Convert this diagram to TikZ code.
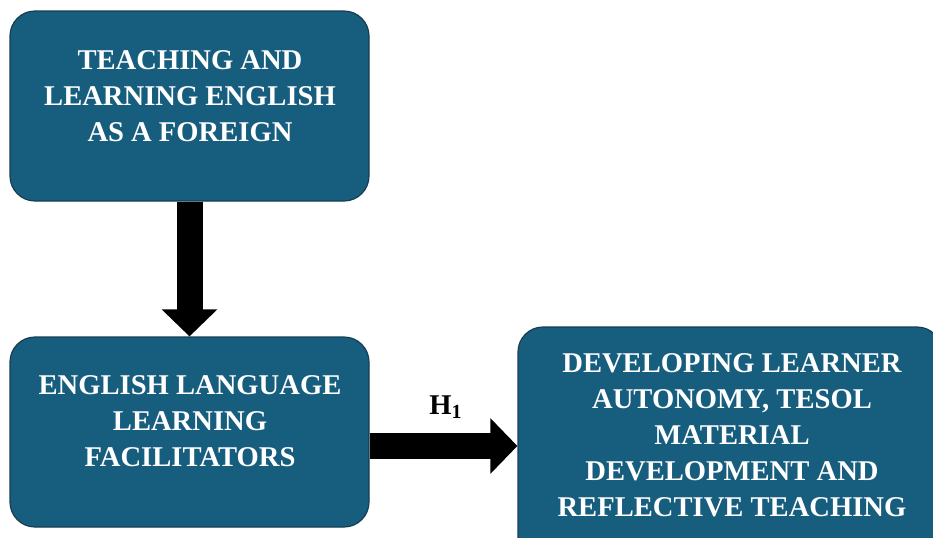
\documentclass[tikz,border=0pt]{standalone}
\usepackage{fontspec}
\setmainfont{Liberation Serif}
\usetikzlibrary{arrows.meta,positioning}
\definecolor{boxcolor}{RGB}{23,94,126}
\definecolor{edgecolor}{RGB}{22,62,82}

\begin{document}
\begin{tikzpicture}[x=0.5pt,y=-0.5pt,
                    blockarrow/.style={line width=13pt,-{Triangle[length=13.5pt,width=27pt]}},
                    every node/.style={font=\fontsize{14.3}{18}\selectfont\bfseries}]
  \tikzstyle{stage}=[draw=edgecolor,fill=boxcolor,rounded corners=12.5pt,inner sep=0pt,line width=0.6pt]
  \tikzstyle{stagetext}=[text=white,align=center]

  \useasboundingbox (0,0) rectangle (933,537);
  \clip (0,0) rectangle (933,537);

  % boxes
  \node[stage,minimum width=179.5pt,minimum height=95pt] (teach) at (189.5,106) {};
  \node[stagetext] (teachtext) at (190,96) {TEACHING AND\\LEARNING ENGLISH\\AS A FOREIGN};

  \node[stage,minimum width=179.5pt,minimum height=95pt] (facil) at (189.5,432) {};
  \node[stagetext] (faciltext) at (190,421) {ENGLISH LANGUAGE\\LEARNING\\FACILITATORS};

  \node[stage,minimum width=212pt,minimum height=118pt] (devel) at (730,445) {};
  \node[stagetext] (develtext) at (732,435) {DEVELOPING LEARNER\\AUTONOMY, TESOL\\MATERIAL\\DEVELOPMENT AND\\REFLECTIVE TEACHING};

  % arrows
  \draw[blockarrow] (teach.south) -- (facil.north);
  \draw[blockarrow] ([yshift=-7pt]facil.east) -- ([yshift=-7pt]facil.east -| devel.west);
  \node (hyp) at (446,407) {H\textsubscript{1}};

\end{tikzpicture}
\end{document}
